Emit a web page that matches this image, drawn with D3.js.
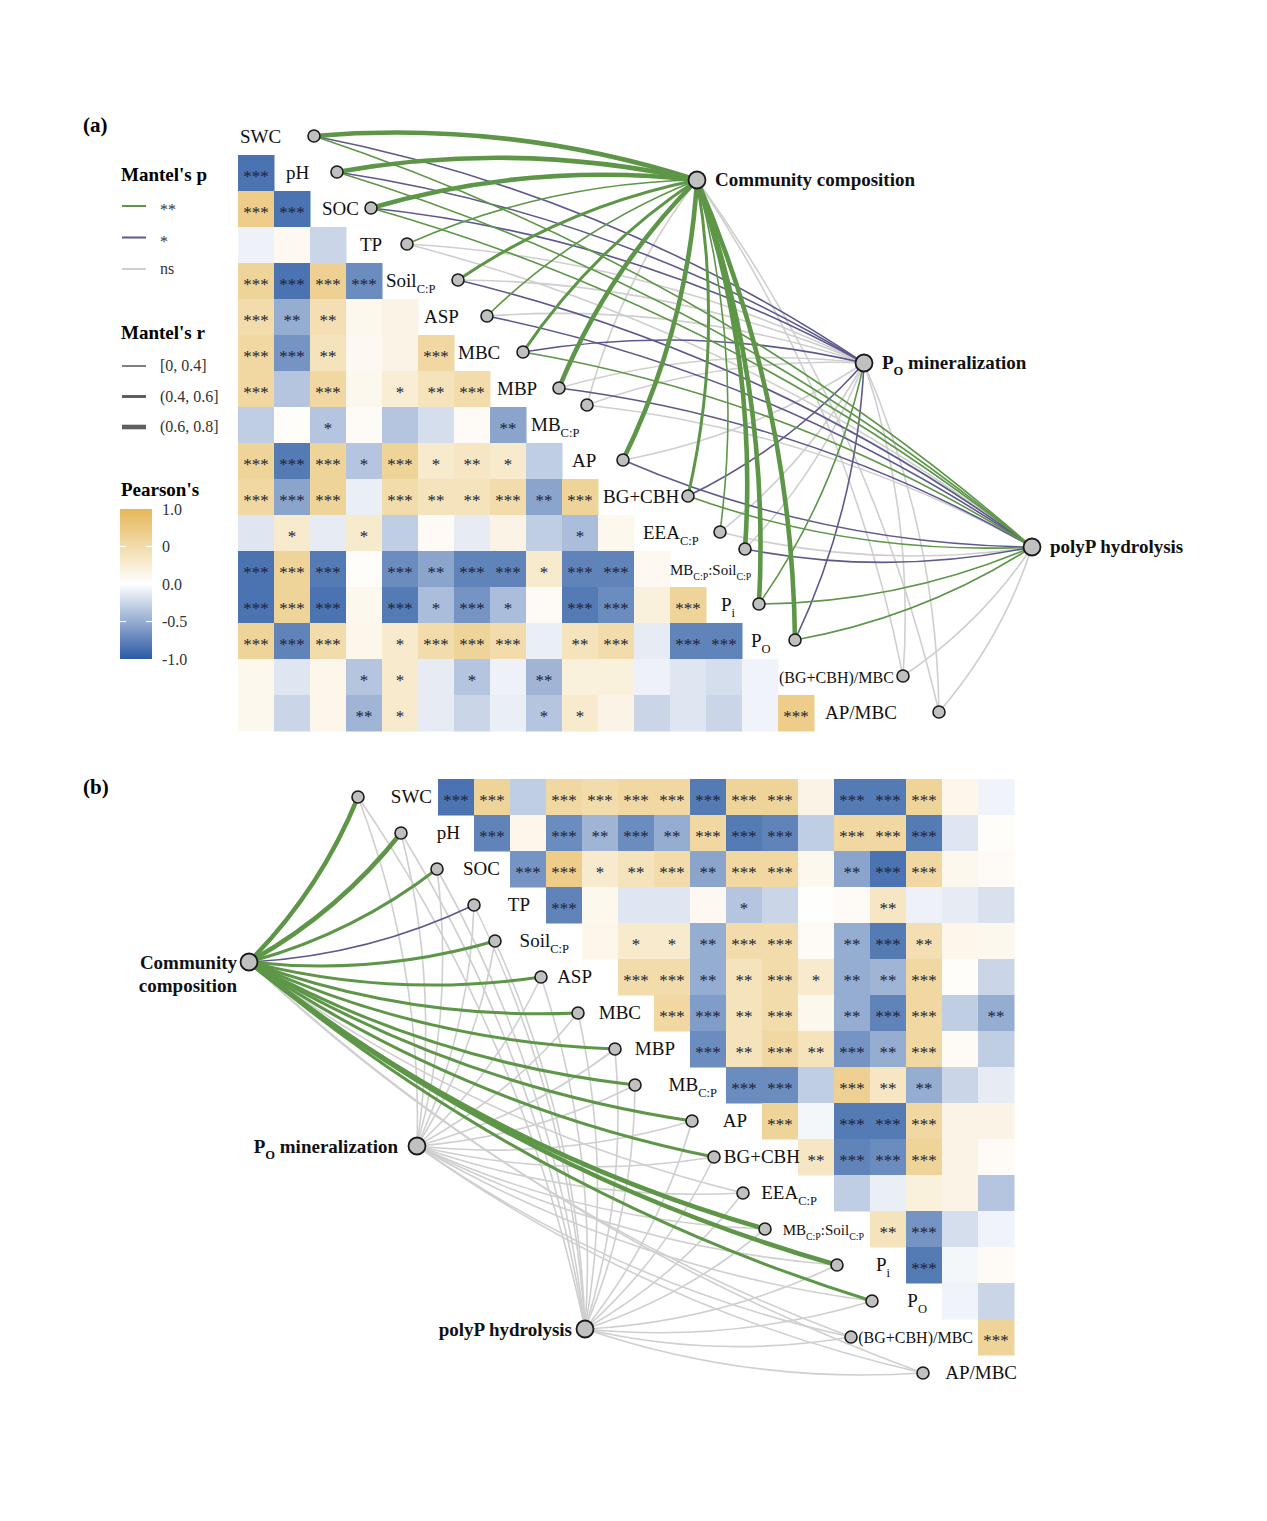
<!DOCTYPE html>
<html>
<head>
<meta charset="utf-8">
<script src="https://cdn.jsdelivr.net/npm/d3@7/dist/d3.min.js"></script>
<style>
  html,body{margin:0;padding:0;background:#fff;}
  text{font-family:"Liberation Serif","Times New Roman",Times,serif;}
</style>
</head>
<body>
<svg id="chart" width="1267" height="1521"></svg>
<script>
// ======================= DATA =======================
const variables = ["SWC","pH","SOC","TP","Soil_{C:P}","ASP","MBC","MBP","MB_{C:P}","AP","BG+CBH",
  "EEA_{C:P}","MB_{C:P}:Soil_{C:P}","P_{i}","P_{O}","(BG+CBH)/MBC","AP/MBC"];
const hubs = ["Community composition","P_{O} mineralization","polyP hydrolysis"];

// Panel (a): lower triangle, row k (variable k) vs columns 0..k-1
const corA = [
  [],
  [-0.85],
  [0.70,-0.85],
  [-0.08,0.08,-0.25],
  [0.60,-0.85,0.65,-0.70],
  [0.50,-0.50,0.45,0.10,0.15],
  [0.55,-0.65,0.40,0.08,0.15,0.55],
  [0.55,-0.35,0.55,0.10,0.25,0.40,0.50],
  [-0.30,0.03,-0.35,0.05,-0.35,-0.20,0.05,-0.55],
  [0.60,-0.80,0.60,-0.35,0.60,0.30,0.35,0.30,-0.30],
  [0.55,-0.55,0.60,-0.10,0.50,0.40,0.40,0.50,-0.55,0.60],
  [-0.15,0.30,-0.12,0.30,-0.30,0.05,-0.12,0.15,-0.30,-0.40,0.10],
  [-0.85,0.60,-0.80,0.03,-0.70,-0.55,-0.75,-0.75,0.30,-0.75,-0.75,0.08],
  [-0.85,0.60,-0.85,0.10,-0.80,-0.40,-0.65,-0.40,0.05,-0.80,-0.70,0.20,0.60],
  [0.60,-0.75,0.50,0.12,0.30,0.50,0.60,0.50,-0.10,0.40,0.50,-0.12,-0.75,-0.75],
  [0.10,-0.15,0.12,-0.35,0.30,-0.12,-0.35,-0.08,-0.45,0.20,0.20,-0.08,-0.15,-0.20,-0.07],
  [0.10,-0.25,0.12,-0.45,0.30,-0.12,-0.25,-0.10,-0.35,0.30,0.15,-0.25,-0.15,-0.25,-0.07,0.70]
];
// significance level per cell: 0 none, 1 *, 2 **, 3 ***
const sigA = ["","3","33","000","3333","32200","332003","3030123","00100002","333131210",
  "3330322323","01010000010","333032331330","3330313103303","33301333023033",
  "000110102000000","0002100011000003"];

// Panel (b): upper triangle, row r (variable r) vs columns r+1..16
const corB = [
  [-0.85,0.60,-0.30,0.55,0.50,0.55,0.55,-0.80,0.60,0.60,0.15,-0.80,-0.80,0.60,0.12,-0.07],
  [-0.75,0.12,-0.70,-0.45,-0.70,-0.50,0.55,-0.80,-0.75,-0.30,0.55,0.55,-0.80,-0.15,0.03],
  [-0.65,0.70,0.30,0.40,0.50,-0.55,0.55,0.55,0.10,-0.55,-0.85,0.55,0.10,0.05],
  [-0.75,0.10,-0.15,-0.15,0.08,-0.35,-0.25,0.02,0.05,0.35,-0.08,-0.12,-0.18],
  [0.12,0.30,0.30,-0.50,0.50,0.50,0.05,-0.50,-0.80,0.45,0.12,0.10],
  [0.50,0.50,-0.50,0.40,0.50,0.30,-0.50,-0.45,0.55,0.03,-0.25],
  [0.55,-0.60,0.40,0.50,0.10,-0.50,-0.75,0.55,-0.30,-0.50],
  [-0.70,0.40,0.55,0.40,-0.65,-0.50,0.55,0.05,-0.30],
  [-0.70,-0.70,-0.30,0.65,0.35,-0.50,-0.25,-0.12],
  [0.60,-0.05,-0.80,-0.80,0.55,0.15,0.15],
  [0.35,-0.75,-0.70,0.60,0.15,0.05],
  [-0.30,-0.10,0.20,0.15,-0.35],
  [0.40,-0.65,-0.20,-0.07],
  [-0.80,-0.05,0.05],
  [-0.07,-0.25],
  [0.60]
];
const sigB = ["3303333333033300","303232333033300","33123233023300","3000010002000",
  "011233023200","33223122300","3323023302","323232300","33032200","3033300",
  "233300","00000","2300","300","00","3"];

// Mantel tests: p class (2 = **, 1 = *, 0 = ns) and r class (1 [0,0.4], 2 (0.4,0.6], 3 (0.6,0.8])
// rows: Community composition, PO mineralization, polyP hydrolysis
const mantelPA = [
  [2,2,2,2,2,2,2,2,0,2,2,2,2,2,2,0,0],
  [1,1,1,0,0,0,1,0,0,0,1,0,0,2,1,0,0],
  [2,2,2,0,1,1,2,1,0,1,2,0,1,2,2,0,0]
];
const mantelRA = [
  [3,3,3,1,2,1,2,3,1,3,2,1,3,3,3,1,1],
  [1,1,1,1,1,1,1,1,1,1,1,1,1,1,1,1,1],
  [1,1,1,1,1,1,1,1,1,1,1,1,1,1,1,1,1]
];
const mantelPB = [
  [2,2,2,1,2,2,2,2,2,2,2,0,2,2,2,0,0],
  [0,0,0,0,0,0,0,0,0,0,0,0,0,0,0,0,0],
  [0,0,0,0,0,0,0,0,0,0,0,0,0,0,0,0,0]
];
const mantelRB = [
  [3,3,2,1,2,2,2,2,2,2,2,1,3,3,2,1,1],
  [1,1,1,1,1,1,1,1,1,1,1,1,1,1,1,1,1],
  [1,1,1,1,1,1,1,1,1,1,1,1,1,1,1,1,1]
];

const pLegendLabels = ["**","*","ns"];
const rLegendLabels = ["[0, 0.4]","(0.4, 0.6]","(0.6, 0.8]"];
const pearsonTicks = [1,0.5,0,-0.5,-1];
const pearsonTickLabels = ["1.0","0","0.0","-0.5","-1.0"];

// ======================= LAYOUT / STYLE =======================
const CELL = 36;
const BLUE = "#2b5aa3", ORANGE = "#e5b857";
const pColors = {2:"#5e9648", 1:"#5d598c", 0:"#cfcfcf"};
const rWidths = {1:1.6, 2:3.0, 3:4.6};
const labelSize = [19,19,19,19,19,19,19,19,19,19,19,19,15,19,19,16,19];
// panel (a)
const nodeDxA = [76,63,61,61,76,69,69,69,61,61,90,86,75,53,53,125,125];
const nodeDyA = [-1,-1,-1,-1,-1,-1,-1,-1,-20,-1,-1,-1,-20,-1,-1,-1,-1];
const labDxA  = [2,12,12,14,4,6,4,7,5,10,5,9,0,15,9,1,11];
const hubPosA = [[697,180],[864,363],[1032,547]];
// panel (b)
const nodeDxB = [-80,-73,-73,-72,-87,-77,-76,-75,-91,-70,-84,-91,-105,-69,-70,-127,-91];
const nodeDyB = [0,0,0,0,0,0,0,0,0,0,0,0,0,0,0,0,0];
const labDxB  = [-6,-14,-10,-16,-13,-26,-13,-15,-9,-15,2,-17,-6,-16,-15,-5,3];
const hubPosB = [[249,962],[417,1146],[585,1329]];
const CURV = 0.1;

// ======================= DRAW =======================
const svg = d3.select("#chart");
const color = d3.scaleLinear().domain([-1,0,1]).range([BLUE,"#ffffff",ORANGE]).interpolate(d3.interpolateRgb);
const stars = ["","*","**","***"];
const idx = d3.range(variables.length);

const xA = d3.scaleBand().domain(idx).range([238, 238 + CELL*idx.length]);
const yA = d3.scaleBand().domain(idx).range([119, 119 + CELL*idx.length]);
const xB = d3.scaleBand().domain(idx).range([402, 402 + CELL*idx.length]);
const yB = d3.scaleBand().domain(idx).range([779, 779 + CELL*idx.length]);

function richText(t, markup, size){
  const parts = markup.split(/(_\{[^}]*\})/).filter(s => s.length);
  let shift = 0;
  parts.forEach(p => {
    const sub = p.startsWith("_{");
    const target = sub ? size*0.3 : 0;
    t.append("tspan")
      .attr("dy", target - shift)
      .attr("font-size", sub ? size*0.66 : size)
      .text(sub ? p.slice(2,-1) : p);
    shift = target;
  });
  return t;
}

function linkPath(h, v, sign){
  const dx = v[0]-h[0], dy = v[1]-h[1], L = Math.hypot(dx,dy);
  const nx = -dy/L, ny = dx/L;
  const cx = (h[0]+v[0])/2 + sign*CURV*L*nx, cy = (h[1]+v[1])/2 + sign*CURV*L*ny;
  const p = d3.path(); p.moveTo(h[0],h[1]); p.quadraticCurveTo(cx,cy,v[0],v[1]);
  return p.toString();
}

function drawPanel(g, cells, nodes, labels, hubsPos, mP, mR, signFn, hubLabelFn){
  // heatmap
  const cg = g.append("g");
  cg.selectAll("rect").data(cells).join("rect")
    .attr("x", d => d.x).attr("y", d => d.y)
    .attr("width", CELL+0.5).attr("height", CELL+0.5)
    .attr("fill", d => color(d.v));
  cg.selectAll("text").data(cells.filter(d => d.s > 0)).join("text")
    .attr("x", d => d.x + CELL/2).attr("y", d => d.y + CELL/2 + 8.5)
    .attr("text-anchor","middle").attr("font-size",17).attr("fill","#222230")
    .text(d => stars[d.s]);
  // links
  const links = [];
  hubsPos.forEach((h,hi) => nodes.forEach((n,vi) => links.push({h, v:n, p:mP[hi][vi], r:mR[hi][vi]})));
  links.sort((a,b) => (a.p - b.p) || (a.r - b.r));
  g.append("g").selectAll("path").data(links).join("path")
    .attr("d", d => linkPath(d.h, d.v, signFn(d.v)))
    .attr("fill","none").attr("stroke", d => pColors[d.p])
    .attr("stroke-width", d => rWidths[d.r]).attr("stroke-linecap","round");
  // variable labels
  labels.forEach((l,i) => {
    const t = g.append("text").attr("x", l.x).attr("y", l.y + 6)
      .attr("text-anchor", l.anchor).attr("fill","#111").attr("font-size", labelSize[i]);
    richText(t, variables[i], labelSize[i]);
  });
  // nodes
  g.append("g").selectAll("circle").data(nodes).join("circle")
    .attr("cx", d => d[0]).attr("cy", d => d[1]).attr("r", 6)
    .attr("fill","#c0c0c0").attr("stroke","#1a1a1a").attr("stroke-width",1.6);
  g.append("g").selectAll("circle").data(hubsPos).join("circle")
    .attr("cx", d => d[0]).attr("cy", d => d[1]).attr("r", 8.5)
    .attr("fill","#c0c0c0").attr("stroke","#1a1a1a").attr("stroke-width",1.8);
  hubLabelFn(g);
}

// ---------- Panel (a) ----------
const gA = svg.append("g");
const cellsA = [];
corA.forEach((row,k) => row.forEach((v,j) => cellsA.push({x:xA(j), y:yA(k), v, s:+sigA[k][j]})));
const nodesA = idx.map(k => [xA(k) + nodeDxA[k], yA(k) + CELL/2 + nodeDyA[k]]);
const labelsA = idx.map(k => ({x: xA(k) + labDxA[k], y: yA(k) + CELL/2, anchor:"start"}));
const midYA = d3.mean(nodesA, d => d[1]);
drawPanel(gA, cellsA, nodesA, labelsA, hubPosA, mantelPA, mantelRA, v => (v[1] < midYA ? 1 : -1), g => {
  hubPosA.forEach((h,i) => {
    const t = g.append("text").attr("x", h[0]+18).attr("y", h[1]+6)
      .attr("font-weight","bold").attr("font-size",19).attr("fill","#111");
    richText(t, hubs[i], 19);
  });
});

// ---------- Panel (b) ----------
const gB = svg.append("g");
const cellsB = [];
corB.forEach((row,r) => row.forEach((v,jj) => { const j = r+1+jj; cellsB.push({x:xB(j), y:yB(r), v, s:+sigB[r][jj]}); }));
const rowStartB = k => (k < 16 ? xB(k+1) : xB(16) + CELL);
const nodesB = idx.map(k => [rowStartB(k) + nodeDxB[k], yB(k) + CELL/2 + nodeDyB[k]]);
const labelsB = idx.map(k => ({x: rowStartB(k) + labDxB[k], y: yB(k) + CELL/2, anchor:"end"}));
drawPanel(gB, cellsB, nodesB, labelsB, hubPosB, mantelPB, mantelRB, v => 1, g => {
  const [cc, pm, ph] = hubPosB;
  const words = hubs[0].split(" ");
  words.forEach((w,i) => g.append("text").attr("x", cc[0]-12).attr("y", cc[1]+7+i*23)
    .attr("text-anchor","end").attr("font-weight","bold").attr("font-size",19).attr("fill","#111").text(w));
  richText(g.append("text").attr("x", pm[0]-19).attr("y", pm[1]+7).attr("text-anchor","end")
    .attr("font-weight","bold").attr("font-size",19).attr("fill","#111"), hubs[1], 19);
  richText(g.append("text").attr("x", ph[0]-13).attr("y", ph[1]+7).attr("text-anchor","end")
    .attr("font-weight","bold").attr("font-size",19).attr("fill","#111"), hubs[2], 19);
});

// ---------- panel tags ----------
svg.append("text").attr("x",83).attr("y",132).attr("font-weight","bold").attr("font-size",21).text("(a)");
svg.append("text").attr("x",83).attr("y",794).attr("font-weight","bold").attr("font-size",21).text("(b)");

// ---------- legend ----------
const lg = svg.append("g");
lg.append("text").attr("x",121).attr("y",181).attr("font-weight","bold").attr("font-size",19).text("Mantel's p");
const pY = d3.scalePoint().domain([0,1,2]).range([206,269]);
[2,1,0].forEach((p,i) => {
  lg.append("line").attr("x1",122).attr("x2",146).attr("y1",pY(i)).attr("y2",pY(i))
    .attr("stroke",pColors[p]).attr("stroke-width",2);
  lg.append("text").attr("x",160).attr("y",pY(i) + (p>0 ? 9 : 5)).attr("font-size",16).attr("fill","#333")
    .text(pLegendLabels[i]);
});
lg.append("text").attr("x",121).attr("y",339).attr("font-weight","bold").attr("font-size",19).text("Mantel's r");
const rY = d3.scalePoint().domain([0,1,2]).range([366,427]);
[1,2,3].forEach((r,i) => {
  lg.append("line").attr("x1",122).attr("x2",146).attr("y1",rY(i)).attr("y2",rY(i))
    .attr("stroke","#5f5f5f").attr("stroke-width",rWidths[r]);
  lg.append("text").attr("x",160).attr("y",rY(i)+5).attr("font-size",16).attr("fill","#333").text(rLegendLabels[i]);
});
lg.append("text").attr("x",121).attr("y",496).attr("font-weight","bold").attr("font-size",19).text("Pearson's");
const defs = svg.append("defs");
const grad = defs.append("linearGradient").attr("id","pgrad").attr("x1",0).attr("x2",0).attr("y1",0).attr("y2",1);
d3.range(0,1.0001,0.05).forEach(t => grad.append("stop").attr("offset",t).attr("stop-color",color(1-2*t)));
const cbY = d3.scaleLinear().domain([1,-1]).range([509,659]);
lg.append("rect").attr("x",120).attr("y",cbY(1)).attr("width",32).attr("height",cbY(-1)-cbY(1)).attr("fill","url(#pgrad)");
[0.5,0,-0.5].forEach(v => {
  lg.append("line").attr("x1",120).attr("x2",126).attr("y1",cbY(v)).attr("y2",cbY(v)).attr("stroke","#fff").attr("stroke-width",1.2);
  lg.append("line").attr("x1",146).attr("x2",152).attr("y1",cbY(v)).attr("y2",cbY(v)).attr("stroke","#fff").attr("stroke-width",1.2);
});
const axisG = lg.append("g").attr("transform","translate(156,0)")
  .call(d3.axisRight(cbY).tickValues(pearsonTicks).tickFormat((d,i) => pearsonTickLabels[i]).tickSize(0).tickPadding(6));
axisG.select(".domain").remove();
axisG.selectAll("text").attr("font-size",16).attr("fill","#333")
  .attr("font-family",'"Liberation Serif","Times New Roman",serif');
</script>
</body>
</html>
